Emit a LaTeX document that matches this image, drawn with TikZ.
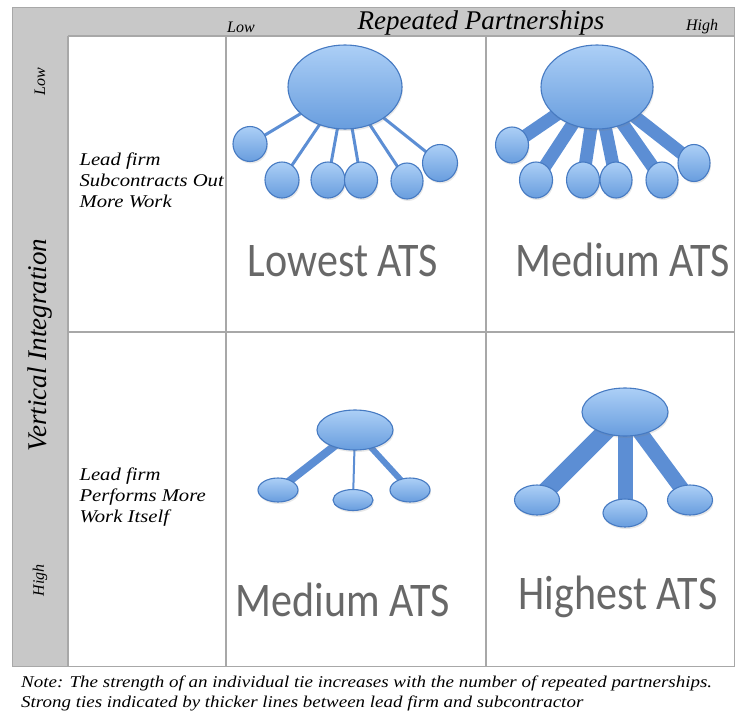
\documentclass[tikz,border=0pt]{standalone}
\usepackage{fontspec}
\setmainfont{Liberation Serif}
\newfontfamily\atsfont{Carlito}
\newfontfamily\widefont[FakeStretch=1.15]{Liberation Serif}
\usetikzlibrary{shapes.geometric,shadows,backgrounds}

\pgfdeclarelayer{ties}
\pgfsetlayers{background,ties,main}

\definecolor{framegray}{RGB}{200,200,200}
\definecolor{rulegray}{RGB}{168,168,168}
\definecolor{nodetop}{RGB}{172,207,246}
\definecolor{nodebottom}{RGB}{104,157,222}
\definecolor{nodeedge}{RGB}{70,122,194}
\definecolor{tieblue}{RGB}{92,142,212}
\definecolor{atsgray}{RGB}{104,104,104}

\begin{document}
\begin{tikzpicture}[x=1pt, y=-1pt,
    firm/.style 2 args={ellipse, inner sep=0pt, minimum width=#1, minimum height=#2,
      draw=nodeedge, line width=1.1pt, top color=nodetop, bottom color=nodebottom,
      drop shadow={opacity=0.18, shadow xshift=1pt, shadow yshift=-2pt}},
    tie/.style={draw=tieblue, line width=#1},
    ats/.style={font=\atsfont\fontsize{42}{42}\selectfont, text=atsgray},
    scale lbl/.style={font=\itshape\fontsize{16}{18}\selectfont},
    axis lbl/.style={font=\itshape\fontsize{27}{29}\selectfont},
    side lbl/.style={font=\widefont\itshape\fontsize{18}{21}\selectfont, align=left, anchor=west},
    grid rule/.style={rulegray, line width=1.4pt}]

  \useasboundingbox (0,0) rectangle (736,715);

  %% ---- Frame and grid ----
  \begin{scope}[on background layer]
    \fill[white] (0,0) rectangle (736,715);
    \fill[framegray] (12,7) rectangle (734,666);
    \fill[white] (68,36) rectangle (734,666);
    \draw[rulegray, line width=0.8pt] (12,7) rectangle (734,666);
    \draw[grid rule] (68,36) -- (734,36);
    \draw[grid rule] (68,36) -- (68,666);
    \draw[grid rule] (226,36) -- (226,666);
    \draw[grid rule] (486,36) -- (486,666);
    \draw[grid rule] (68,332) -- (734,332);
  \end{scope}

  %% Axis headings
  \node[scale lbl] (colLow)  at (241,27) {Low};
  \node[axis lbl]  (colAxis) at (481,23) {Repeated Partnerships};
  \node[scale lbl] (colHigh) at (702,27) {High};

  \node[scale lbl, rotate=90] (rowLow)  at (40,82)  {Low};
  \node[axis lbl, rotate=90]  (rowAxis) at (40,345) {Vertical Integration};
  \node[scale lbl, rotate=90] (rowHigh) at (40,580) {High};

  \node[side lbl] (rowOut) at (76,180) {Lead firm\\Subcontracts Out\\More Work};
  \node[side lbl] (rowIn)  at (76,497) {Lead firm\\Performs More\\Work Itself};

  %% ---- Low / low: many weak ties ----
  \node[firm={114pt}{84pt}] (llHub) at (345,87) {};
  \node[firm={34pt}{35pt}] (llA) at (250,144) {};
  \node[firm={34pt}{36pt}] (llB) at (282,180) {};
  \node[firm={34pt}{36pt}] (llC) at (328,180) {};
  \node[firm={33pt}{36pt}] (llD) at (361,180) {};
  \node[firm={32pt}{36pt}] (llE) at (407,181) {};
  \node[firm={35pt}{37pt}] (llF) at (440,163) {};

  %% ---- Low / high: many strong ties ----
  \node[firm={112pt}{84pt}] (lhHub) at (597,87) {};
  \node[firm={33pt}{36pt}] (lhA) at (512,145) {};
  \node[firm={33pt}{36pt}] (lhB) at (536,180) {};
  \node[firm={33pt}{36pt}] (lhC) at (583,180) {};
  \node[firm={32pt}{36pt}] (lhD) at (616,180) {};
  \node[firm={32pt}{36pt}] (lhE) at (662,180) {};
  \node[firm={32pt}{37pt}] (lhF) at (694,163) {};

  %% ---- High / low: few mixed ties ----
  \node[firm={76pt}{40pt}] (hlHub) at (355,430) {};
  \node[firm={40pt}{24pt}] (hlA) at (278,490) {};
  \node[firm={40pt}{21pt}] (hlB) at (353,500) {};
  \node[firm={40pt}{24pt}] (hlC) at (410,490) {};

  %% ---- High / high: few strong ties ----
  \node[firm={86pt}{48pt}] (hhHub) at (625,412) {};
  \node[firm={45pt}{30pt}] (hhA) at (537,500) {};
  \node[firm={44pt}{28pt}] (hhB) at (625,513) {};
  \node[firm={45pt}{30pt}] (hhC) at (690,500) {};

  %% Ties run under the firms
  \begin{pgfonlayer}{ties}
    \foreach \sub in {A,B,C,D,E,F}
      \draw[tie=3pt] (llHub.center) -- (ll\sub.center);
    \foreach \sub in {A,B,C,D,E,F}
      \draw[tie=13pt] (lhHub.center) -- (lh\sub.center);
    \draw[tie=8pt] (hlHub.center) -- (hlA.center);
    \draw[tie=2pt] (hlHub.center) -- (hlB.center);
    \draw[tie=6pt] (hlHub.center) -- (hlC.center);
    \draw[tie=18pt] (hhHub.center) -- (hhA.center);
    \draw[tie=15pt] (hhHub.center) -- (hhB.center);
    \draw[tie=15pt] (hhHub.center) -- (hhC.center);
  \end{pgfonlayer}

  %% ---- ATS ratings ----
  \node[ats] (llAts) at (343,261) {\scalebox{1}[1.15]{Lowest ATS}};
  \node[ats] (lhAts) at (623,260) {\scalebox{1}[1.15]{Medium ATS}};
  \node[ats] (hlAts) at (343,600) {\scalebox{1}[1.15]{Medium ATS}};
  \node[ats] (hhAts) at (618,597) {\scalebox{1}[1.15]{Highest ATS}};

  %% Note under the table
  \node[anchor=north west, align=left, inner sep=0pt,
        font=\widefont\itshape\fontsize{16.5}{19.5}\selectfont] (note) at (21,676)
    {Note: The strength of an individual tie increases with the number of repeated partnerships.\\
     Strong ties indicated by thicker lines between lead firm and subcontractor};

\end{tikzpicture}
\end{document}
